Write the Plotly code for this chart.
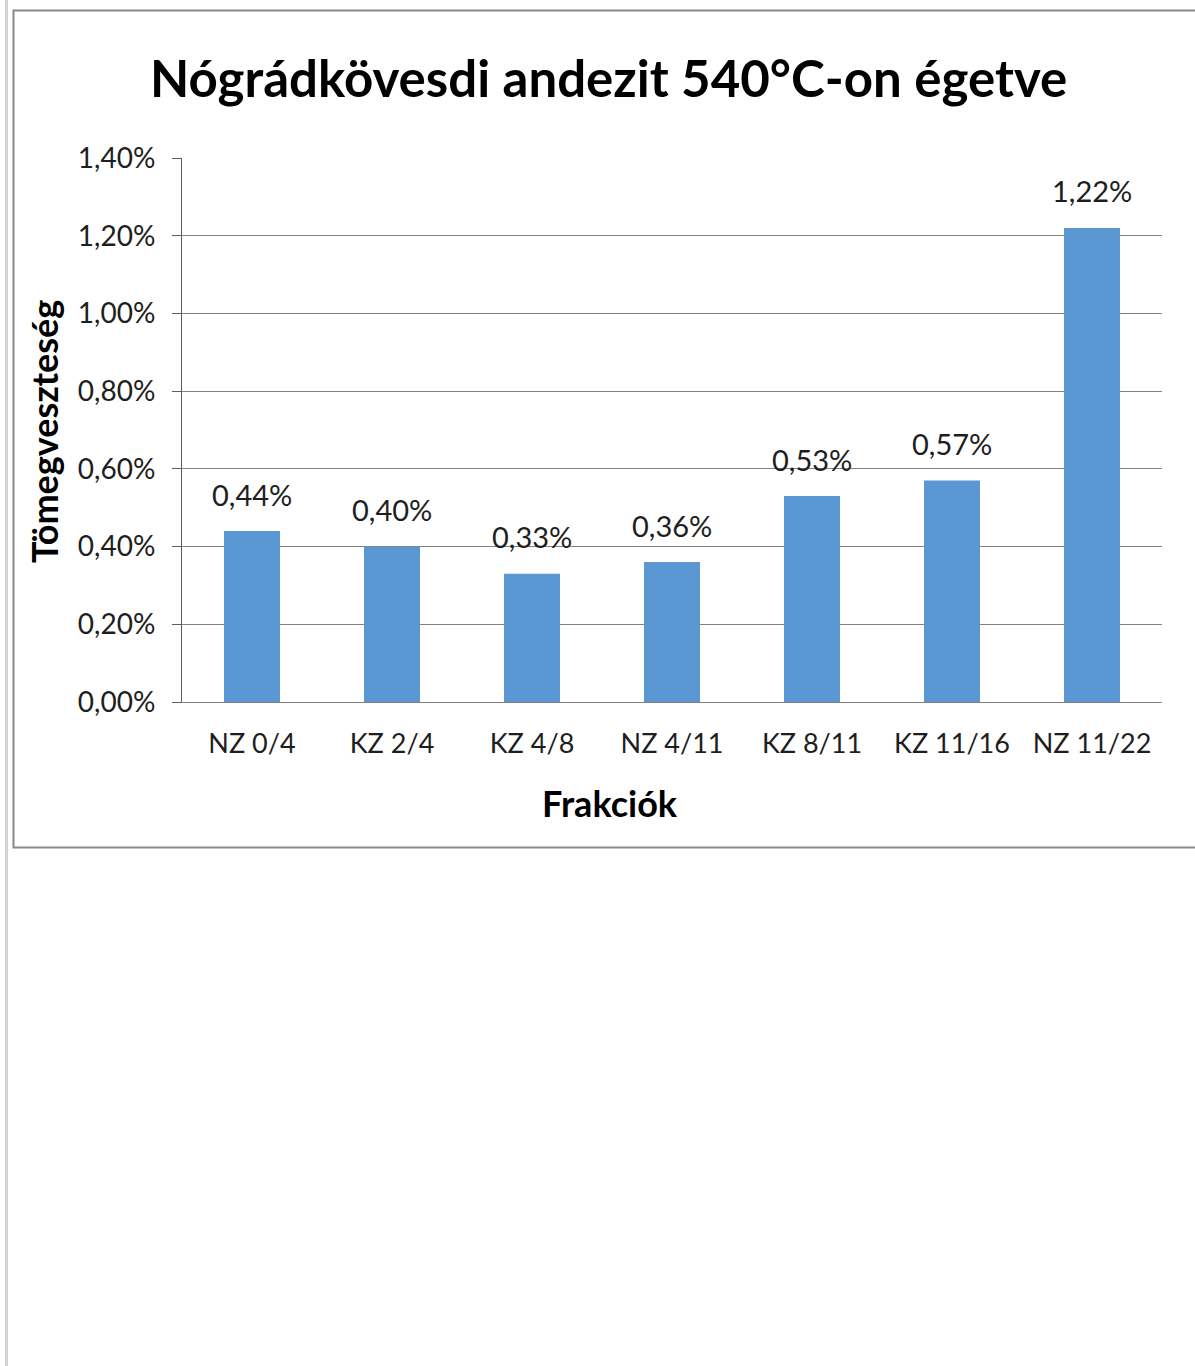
import plotly.graph_objects as go

# Mass loss of andesite fractions after firing at 540 °C
categories = ["NZ 0/4", "KZ 2/4", "KZ 4/8", "NZ 4/11", "KZ 8/11", "KZ 11/16", "NZ 11/22"]
mass_loss = [0.0044, 0.0040, 0.0033, 0.0036, 0.0053, 0.0057, 0.0122]
y_ticks = [0.0, 0.002, 0.004, 0.006, 0.008, 0.010, 0.012, 0.014]

W, H = 1195, 1366
FONT = "Lato"
GRID = "#828282"
BAR = "#5b97d3"
TXT = "#1e1e1e"


def px_x(p):
    return p / W


def px_y(p):
    return 1 - p / H


fig = go.Figure()
fig.add_trace(go.Bar(
    x=categories,
    y=mass_loss,
    marker=dict(color=BAR, line=dict(width=0)),
    hoverinfo="skip",
))

# value labels above each bar
for c, v in zip(categories, mass_loss):
    fig.add_annotation(
        x=c, y=v, xref="x", yref="y",
        text=f"{v*100:.2f}%".replace(".", ","),
        showarrow=False, yanchor="middle", yshift=37,
        font=dict(family=FONT, size=29, color=TXT),
    )

fig.update_layout(
    width=W, height=H,
    autosize=False,
    margin=dict(l=0, r=0, t=0, b=0, pad=0, autoexpand=False),
    paper_bgcolor="white", plot_bgcolor="white",
    separators=",.",
    showlegend=False,
    bargap=0.6,
    font=dict(family=FONT, color=TXT),
    xaxis=dict(
        domain=[px_x(182), px_x(1162)],
        automargin=False,
        showgrid=False, showline=True, linecolor=GRID, linewidth=1,
        ticks="", tickfont=dict(family=FONT, size=27, color=TXT),
        ticklabelstandoff=18,
        fixedrange=True,
    ),
    yaxis=dict(
        domain=[px_y(702), px_y(158)],
        automargin=False,
        range=[0, 0.014], tickvals=y_ticks, tickformat=".2%",
        showgrid=True, gridcolor=GRID, gridwidth=1,
        showline=True, linecolor="#5e5e5e", linewidth=1,
        ticks="outside", ticklen=9, tickcolor="#5e5e5e",
        tickfont=dict(family=FONT, size=28, color=TXT),
        ticklabelstandoff=11,
        zeroline=False, fixedrange=True,
    ),
    shapes=[
        dict(type="rect", xref="paper", yref="paper",
             x0=px_x(5), x1=px_x(8), y0=0, y1=1,
             fillcolor="#d3d3d3", line=dict(width=0), layer="below"),
        dict(type="rect", xref="paper", yref="paper",
             x0=px_x(13.5), x1=px_x(1197), y0=px_y(847.5), y1=px_y(10.5),
             fillcolor="rgba(0,0,0,0)", line=dict(color="#8a8a8a", width=2)),
    ],
    annotations=list(fig.layout.annotations) + [
        dict(text="<b>Nógrádkövesdi andezit 540°C-on égetve</b>",
             xref="paper", yref="paper", x=px_x(608), y=px_y(78),
             showarrow=False, xanchor="center", yanchor="middle",
             font=dict(family=FONT, size=51, color="#000000")),
        dict(text="<b>Tömegveszteség</b>",
             xref="paper", yref="paper", x=px_x(44), y=px_y(432),
             showarrow=False, textangle=-90, xanchor="center", yanchor="middle",
             font=dict(family=FONT, size=36, color="#000000")),
        dict(text="<b>Frakciók</b>",
             xref="paper", yref="paper", x=px_x(610), y=px_y(803),
             showarrow=False, xanchor="center", yanchor="middle",
             font=dict(family=FONT, size=36, color="#000000")),
    ],
)

fig.write_html("out.html", config={"displayModeBar": False})
